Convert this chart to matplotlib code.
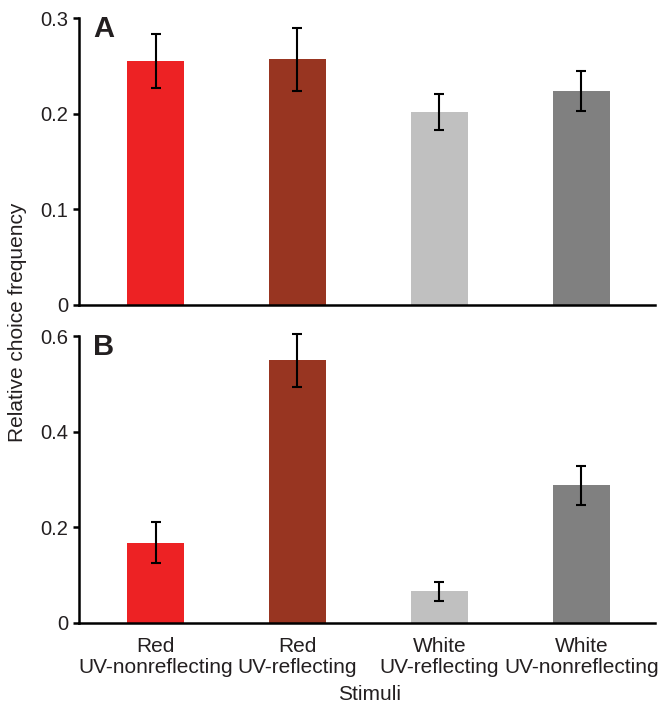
import matplotlib
matplotlib.use("Agg")
import matplotlib.pyplot as plt
import numpy as np

plt.rcParams['font.family'] = ['Liberation Sans', 'DejaVu Sans']

categories = ["Red\nUV-nonreflecting", "Red\nUV-reflecting", "White\nUV-reflecting", "White\nUV-nonreflecting"]
colors = ["#ED2224", "#983521", "#C0C0C0", "#808080"]
values_a = [0.255, 0.257, 0.202, 0.224]
err_a = [0.028, 0.033, 0.019, 0.021]
values_b = [0.168, 0.549, 0.066, 0.288]
err_b = [0.043, 0.055, 0.019, 0.041]
yticks_a = [0, 0.1, 0.2, 0.3]
yticklabels_a = ["0", "0.1", "0.2", "0.3"]
yticks_b = [0, 0.2, 0.4, 0.6]
yticklabels_b = ["0", "0.2", "0.4", "0.6"]

fig = plt.figure(figsize=(6.59, 7.04), dpi=100)
W, H = 659, 704
left = 79 / W
right = 655 / W
axA = fig.add_axes([left, 1 - 305 / H, right - left, (305 - 18) / H])
axB = fig.add_axes([left, 1 - 623 / H, right - left, (623 - 336) / H])

x = np.arange(len(categories))
for ax, vals, errs, yt, ytl, lab in [(axA, values_a, err_a, yticks_a, yticklabels_a, "A"),
                                     (axB, values_b, err_b, yticks_b, yticklabels_b, "B")]:
    ax.bar(x, vals, width=0.4, color=colors, zorder=2)
    eb = ax.errorbar(x, vals, yerr=errs, fmt='none', ecolor='black', elinewidth=1.5,
                     capsize=3.6, capthick=1.5, zorder=3)
    for art in eb.get_children():
        art.set_clip_on(False)
    ax.set_xlim(-0.54, 3.52)
    ax.set_ylim(0, yt[-1])
    ax.set_yticks(yt)
    ax.set_yticklabels(ytl, fontsize=14.5, color='#231f20')
    for s in ['top', 'right']:
        ax.spines[s].set_visible(False)
    for s in ['left', 'bottom']:
        ax.spines[s].set_linewidth(1.8)
    ax.tick_params(axis='y', direction='out', length=4, width=1.8, pad=4)
    ax.tick_params(axis='x', length=0)
    ax.text(0.024, 1.012, lab, transform=ax.transAxes, fontsize=21, fontweight='bold',
            va='top', ha='left', color='#231f20')

axA.set_xticks([])
axB.set_xticks(x)
axB.set_xticklabels(categories, fontsize=15, color='#231f20', linespacing=1.12)
axB.tick_params(axis='x', pad=10)

fig.text(18 / W, 1 - 322 / H, "Relative choice frequency", rotation=90, fontsize=15,
         va='center', ha='center', color='#231f20')
fig.text(370 / W, 1 - 694 / H, "Stimuli", fontsize=15, va='center', ha='center', color='#231f20')

fig.savefig("out.png", dpi=100)
